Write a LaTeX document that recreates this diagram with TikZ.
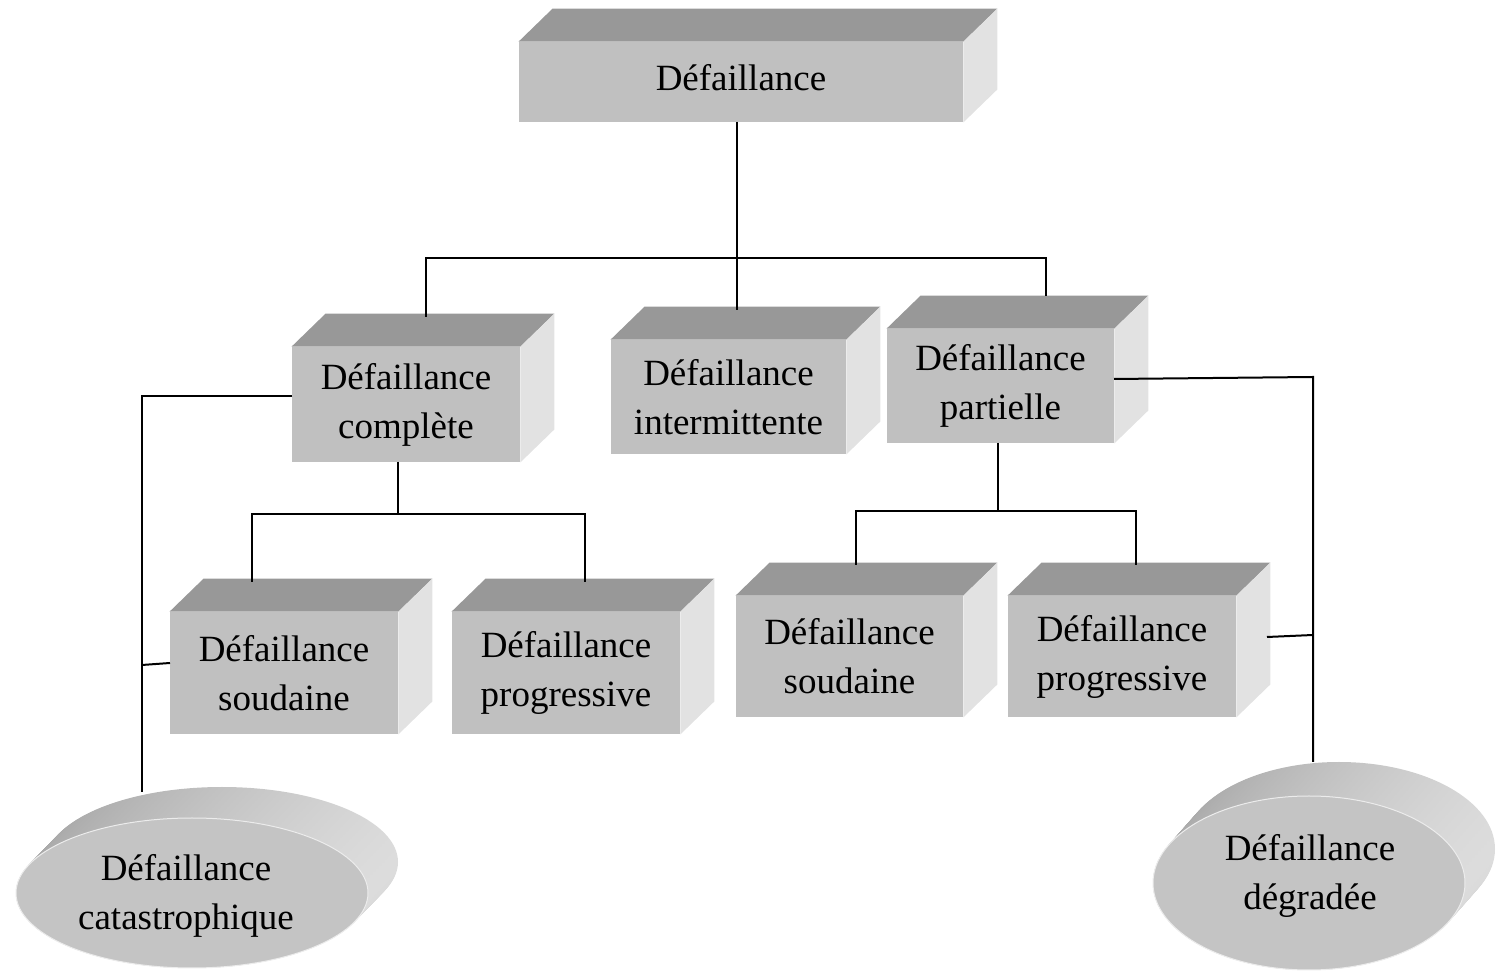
\documentclass[tikz,border=0pt]{standalone}
\usepackage{fontspec}
\setmainfont{Liberation Serif}
\usetikzlibrary{calc}
\definecolor{frontc}{HTML}{C0C0C0}
\definecolor{topc}{HTML}{989898}
\definecolor{sidec}{HTML}{E2E2E2}
\definecolor{ellc}{HTML}{C4C4C4}
\definecolor{shA}{HTML}{A8A8A8}
\definecolor{shB}{HTML}{999999}
\definecolor{shC}{HTML}{DCDCDC}
\newcommand{\fsz}{\fontsize{18.5}{24.5}\selectfont}
\begin{document}
\begin{tikzpicture}[x=0.5pt,y=-0.5pt,
  boxface/.style={fill=frontc, inner sep=0pt, align=center, font=\fsz},
  elltext/.style={inner sep=0pt, align=center, font=\fsz},
  conn/.style={draw=black, line width=1pt}]
\useasboundingbox (0,0) rectangle (1496,972);

% boxes (front faces)
\node[boxface, minimum width=222pt, minimum height=40pt, text depth=5pt] (top) at (741,82) {Défaillance};
\node[boxface, minimum width=114pt, minimum height=57.5pt] (comp) at (406,404.5) {Défaillance\\complète};
\node[boxface, minimum width=117.5pt, minimum height=57pt] (inter) at (728.5,397) {Défaillance\\intermittente};
\node[boxface, minimum width=113.5pt, minimum height=57pt] (part) at (1000.5,386) {Défaillance\\partielle};
\node[boxface, minimum width=114pt, minimum height=61pt] (sl) at (284,673) {Défaillance\\soudaine};
\node[boxface, minimum width=114pt, minimum height=61pt] (pl) at (566,673) {Défaillance\\progressive};
\node[boxface, minimum width=113.5pt, minimum height=60.5pt] (sr) at (849.5,656.5) {Défaillance\\soudaine};
\node[boxface, minimum width=114pt, minimum height=60.5pt] (pr) at (1122,656.5) {Défaillance\\progressive};

% 3D faces
\foreach \n in {top,comp,inter,part,sl,pl,sr,pr}{
  \fill[topc] (\n.north west) -- ($(\n.north west)+(34,-33)$) -- ($(\n.north east)+(34,-33)$) -- (\n.north east) -- cycle;
  \fill[sidec] (\n.north east) -- ($(\n.north east)+(34,-33)$) -- ($(\n.south east)+(34,-33)$) -- (\n.south east) -- cycle;
}

% ellipses (extruded discs)
\foreach \k in {1.0,0.975,...,0.0}{
  \shade[left color=shA, middle color=shB, right color=shC]
    ($(192,893)+\k*(30,-31)$) ellipse [x radius=176, y radius=75];
  \shade[left color=shA, middle color=shB, right color=shC]
    ($(1309,883)+\k*(30,-34)$) ellipse [x radius=156, y radius=87];
}
\fill[ellc, draw=white!85!gray, line width=0.5pt] (192,893) ellipse [x radius=176, y radius=75];
\fill[ellc, draw=white!85!gray, line width=0.5pt] (1309,883) ellipse [x radius=156, y radius=87];
\node[elltext] (cat) at (186,896) {Défaillance\\catastrophique};
\node[elltext] (deg) at (1310,876) {Défaillance\\dégradée};

% junction coordinates
\coordinate (t1) at (737,122);
\coordinate (t2) at (737,310);
\coordinate (b1) at (426,317);
\coordinate (b2) at (426,258);
\coordinate (b3) at (1046,258);
\coordinate (b4) at (1046,296);
\coordinate (c1) at (398,462);
\coordinate (c2) at (398,514);
\coordinate (c3) at (252,582);
\coordinate (c4) at (252,514);
\coordinate (c5) at (585,514);
\coordinate (c6) at (585,582);
\coordinate (p1) at (998,443);
\coordinate (p2) at (998,511);
\coordinate (p3) at (856,565);
\coordinate (p4) at (856,511);
\coordinate (p5) at (1136,511);
\coordinate (p6) at (1136,565);
\coordinate (l1) at (292,396);
\coordinate (l2) at (142,396);
\coordinate (l3) at (142,792);
\coordinate (l4) at (142,665);
\coordinate (l5) at (170,663);
\coordinate (r1) at (1114,379);
\coordinate (r2) at (1313,377);
\coordinate (r3) at (1313,762);
\coordinate (r4) at (1267,637);
\coordinate (r5) at (1313,635);

% connectors
\draw[conn] (t1) -- (t2);
\draw[conn] (b1) -- (b2) -- (b3) -- (b4);
\draw[conn] (c1) -- (c2);
\draw[conn] (c3) -- (c4) -- (c5) -- (c6);
\draw[conn] (p1) -- (p2);
\draw[conn] (p3) -- (p4) -- (p5) -- (p6);
\draw[conn] (l1) -- (l2) -- (l3);
\draw[conn] (l4) -- (l5);
\draw[conn] (r1) -- (r2) -- (r3);
\draw[conn] (r4) -- (r5);
\end{tikzpicture}
\end{document}
